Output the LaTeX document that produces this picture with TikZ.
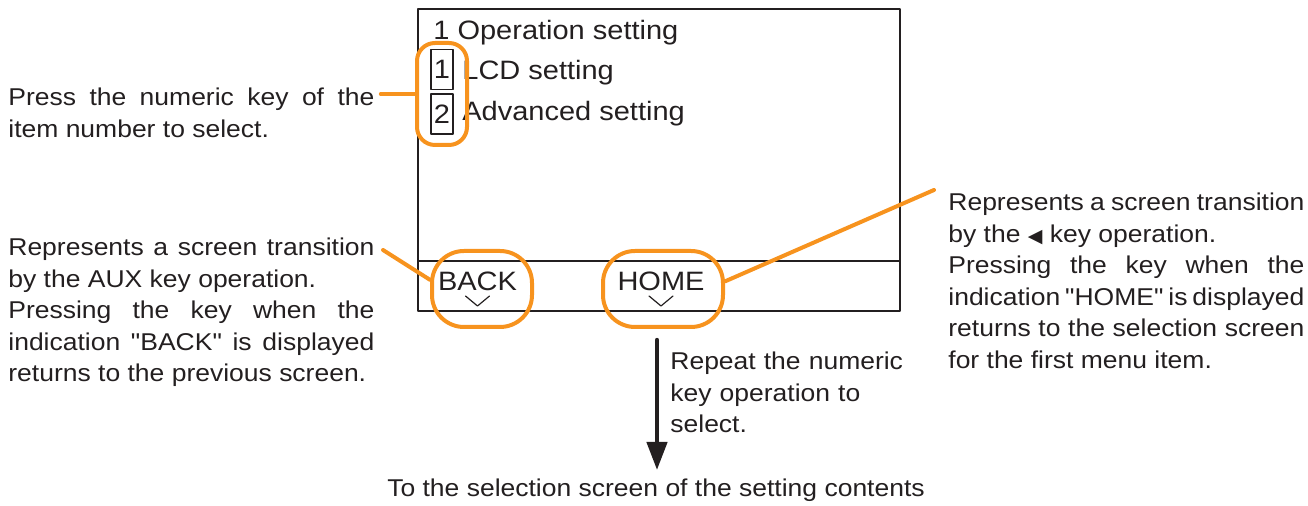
\documentclass[tikz,border=0pt]{standalone}
\usepackage{fontspec}
\setmainfont{Liberation Sans}[FakeStretch=1.09, Ligatures=TeXOff]
\newfontfamily\symfont{DejaVu Sans}
\usetikzlibrary{arrows.meta}
\definecolor{keyorange}{RGB}{247,147,30}
\definecolor{ink}{RGB}{35,31,32}
\newcommand\notesize{\fontsize{12.15pt}{15.75pt}\selectfont\tolerance=10000\hyphenpenalty=10000}
\newcommand\lcdsize{\fontsize{13.3pt}{16pt}\selectfont}
\begin{document}
\begin{tikzpicture}[x=0.5pt, y=-0.5pt, line join=round, line cap=round,
    note/.style={anchor=base west, inner sep=0pt, text width=#1, align=justify, font=\notesize, text=ink},
    lcd/.style={anchor=base west, inner sep=0pt, font=\lcdsize, text=ink},
    numbox/.style={draw=ink, line width=0.6pt, inner sep=0pt, minimum width=11pt, minimum height=20pt, font=\lcdsize, text=ink},
    pick/.style={draw=keyorange, line width=2pt, rounded corners=#1, inner sep=0pt},
    lead/.style={draw=keyorange, line width=2pt}]
  \useasboundingbox (0,0) rectangle (1308,506);

  \draw[ink, line width=0.75pt] (418,9) rectangle (900,311) (418,261) -- (900,261);
  \node[lcd] (title) at (433,40) {1 Operation setting};
  \node[numbox] (num1) at (442,69.5) {1};
  \node[numbox] (num2) at (442,114) {2};
  \node[lcd] (lcdline) at (462,80) {LCD setting};
  \node[lcd] (advline) at (462,121) {Advanced setting};
  \node[lcd, anchor=base] (backkey) at (477.5,291) {BACK};
  \node[lcd, anchor=base] (homekey) at (661,291) {HOME};
  \foreach \k in {backkey, homekey} {
      \draw[ink, line width=0.6pt] ([shift={(-12,5)}]\k.base) -- ++(12,10) -- ++(12,-10);
  }

  \node[pick=9pt, minimum width=25pt, minimum height=51pt] (picknum) at (442,94) {};
  \node[pick=16pt, minimum width=50pt, minimum height=38pt] (pickback) at (482,289) {};
  \node[pick=16pt, minimum width=60pt, minimum height=38pt] (pickhome) at (663,289) {};

  \node[note=183pt] (press) at (8,106) {Press the numeric key of the item number to select.};
  \node[note=183pt] (backnote) at (8,256) {Represents a screen transition by the AUX key operation.\\Pressing the key when the indication "BACK" is displayed returns to the previous screen.};
  \node[note=178pt] (homenote) at (948,211) {Represents a screen transition by the {\symfont\fontsize{9.5pt}{9.5pt}\selectfont ◀} key operation.\\Pressing the key when the indication "HOME" is displayed returns to the selection screen for the first menu item.};
  \node[note=120pt, align=left] (again) at (670,370) {Repeat the numeric\\key operation to\\select.};
  \node[anchor=base, inner sep=0pt, font=\notesize, text=ink] (dest) at (656,497) {To the selection screen of the setting contents};

  \coordinate (backtip) at (383,250);
  \coordinate (hometip) at (934,190);
  \coordinate (arrtop) at (657,340);
  \coordinate (arrend) at (657,470);
  \draw[lead, shorten >=3pt] (picknum.west) -- (picknum.west -| press.east);
  \draw[lead] (pickback.170) -- (backtip);
  \draw[lead] (pickhome.7) -- (hometip);
  \draw[ink, line width=2.2pt, -{Triangle[length=14pt, width=10pt]}] (arrtop) -- (arrend);
\end{tikzpicture}
\end{document}
